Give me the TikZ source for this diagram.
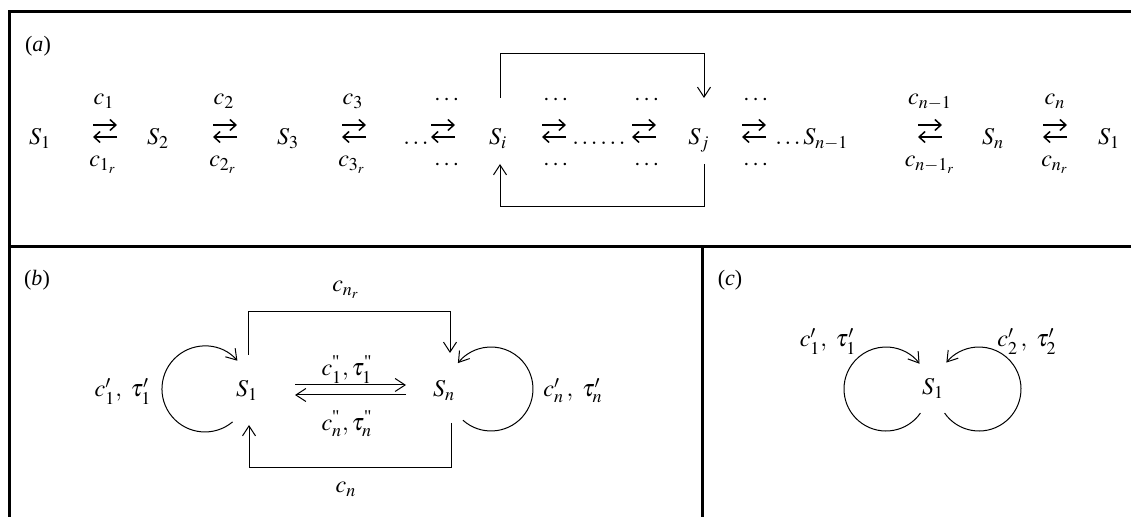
\documentclass[tikz,border=0pt]{standalone}
\usepackage{amsmath}
\usepackage{amssymb}
\usepackage{mathptmx}
\usepackage{fontspec}
\setmainfont{Liberation Serif}
\newfontfamily\qfont[Ligatures=TeXOff]{Liberation Serif}
\DeclareMathSizes{12}{12}{9}{7}
\newcommand\dq{\text{\qfont"}}
\usetikzlibrary{arrows.meta,calc}
\tikzset{
  lab/.style={inner sep=0pt,anchor=base,font=\fontsize{12}{14}\selectfont},
  plab/.style={inner sep=0pt,anchor=base,font=\fontsize{11}{13}\selectfont},
  frame/.style={line width=1.5pt},
  conn/.style={line width=0.5pt,-{Straight Barb[length=5pt,width=6.5pt]}},
  rl/.style={line width=0.75pt,-{Straight Barb[length=3pt,width=5.5pt]}},
}
\begin{document}
\begin{tikzpicture}[x=0.5pt,y=0.5pt]
\useasboundingbox (0,0) rectangle (1131,-517);
% frame
\draw[frame] (1131,-12) -- (9,-12) -- (9,-517);
\draw[frame] (9,-247) -- (1131,-247);
\draw[frame] (702,-247) -- (702,-517);

% ---------- panel (a) ----------
\node[plab] (la) at (38,-52) {(\textit{a})};
\node[lab] (S1a) at (40,-145) {$S_1$};
\node[lab] (S2a) at (158,-145) {$S_2$};
\node[lab] (S3a) at (288,-145) {$S_3$};
\node[lab] (d1) at (416,-145) {$\ldots$};
\node[lab] (Si) at (498,-145) {$S_i$};
\node[lab] (d2) at (599,-145) {$\ldots\ldots$};
\node[lab] (Sj) at (699,-145) {$S_j$};
\node[lab,anchor=base west] (Snm) at (775,-145) {$\ldots S_{n-1}$};
\node[lab] (Sna) at (993,-145) {$S_n$};
\node[lab] (S1z) at (1109,-145) {$S_1$};

\foreach \n/\x in {A1/105,A2/225,A3/354,A4/443,A5/554,A6/644,A7/754,A8/930,A9/1055}{
  \coordinate (\n) at (\x,-131);
  \draw[rl] ([shift={(-12,6)}]\n) -- ([shift={(12,6)}]\n);
  \draw[rl] ([shift={(12,-6)}]\n) -- ([shift={(-12,-6)}]\n);
}
% labels above / below
\node[lab] (u1) at (104,-105) {$c_1$};
\node[lab] (b1) at (103,-167) {$c_{1_r}$};
\node[lab] (u2) at (224,-105) {$c_2$};
\node[lab] (b2) at (223,-167) {$c_{2_r}$};
\node[lab] (u3) at (353,-105) {$c_3$};
\node[lab] (b3) at (352,-167) {$c_{3_r}$};
\node[lab] (u4) at (448,-106) {$\cdots$};
\node[lab] (b4) at (448,-171) {$\cdots$};
\node[lab] (u5) at (557,-106) {$\cdots$};
\node[lab] (b5) at (557,-171) {$\cdots$};
\node[lab] (u6) at (648,-106) {$\cdots$};
\node[lab] (b6) at (648,-171) {$\cdots$};
\node[lab] (u7) at (757,-106) {$\cdots$};
\node[lab] (b7) at (757,-171) {$\cdots$};
\node[lab] (u8) at (930,-105) {$c_{n-1}$};
\node[lab] (b8) at (930,-167) {$c_{{n-1}_r}$};
\node[lab] (u9) at (1055,-105) {$c_n$};
\node[lab] (b9) at (1055,-167) {$c_{n_r}$};

% feedback loop S_i -> S_j and back
\coordinate (Sit) at (500,-98);
\coordinate (Sjt) at (704,-98);
\coordinate (Sjb) at (704,-164);
\coordinate (Sib) at (500,-164);
\draw[conn] (Sit) -- ++(0,44) -| (Sjt);
\draw[conn] (Sjb) -- ++(0,-43) -| (Sib);

% ---------- panel (b) ----------
\node[plab] (lb) at (37,-286) {(\textit{b})};
\node[lab] (S1b) at (247,-397) {$S_1$};
\node[lab] (Snb) at (444,-397) {$S_n$};
\node[lab] (l1b) at (123,-397) {$c'_1,\ \tau'_1$};
\node[lab] (lnb) at (573,-397) {$c'_n\,,\ \tau'_n$};
\node[lab] (tnr) at (346,-292) {$c_{n_r}$};
\node[lab] (bn) at (346,-493) {$c_n$};
\node[lab] (m1) at (347,-376) {$c^{\dq}_1,\tau^{\dq}_1$};
\node[lab] (m2) at (347,-431) {$c^{\dq}_n,\tau^{\dq}_n$};

\coordinate (ba1) at (295,-385);
\coordinate (ba2) at (406,-385);
\coordinate (ba3) at (406,-395);
\coordinate (ba4) at (295,-395);
\draw[conn] (ba1) -- (ba2);
\draw[conn] (ba3) -- (ba4);

\coordinate (S1bt) at (248,-355);
\coordinate (Snbt) at (450,-353);
\coordinate (Snbb) at (451,-423);
\coordinate (S1bb) at (249,-425);
\draw[conn] (S1bt) -- ++(0,43) -| (Snbt);
\draw[conn] (Snbb) -- ++(0,-45) -| (S1bb);

\draw[conn] (232.6,-421.9) arc[start angle=-50, end angle=-319, radius=21.5pt];
\draw[conn] (462.9,-420.2) arc[start angle=228, end angle=502, radius=21pt];

% ---------- panel (c) ----------
\node[plab] (lc) at (730,-286) {(\textit{c})};
\node[lab] (S1c) at (933,-395) {$S_1$};
\node[lab] (l1c) at (828,-347) {$c'_1,\ \tau'_1$};
\node[lab] (l2c) at (1027,-347) {$c'_2\,,\ \tau'_2$};
\draw[conn] (920.4,-413.1) arc[start angle=-35, end angle=-323, radius=21pt];
\draw[conn] (944.6,-413.1) arc[start angle=215, end angle=501, radius=21pt];
\end{tikzpicture}
\end{document}
